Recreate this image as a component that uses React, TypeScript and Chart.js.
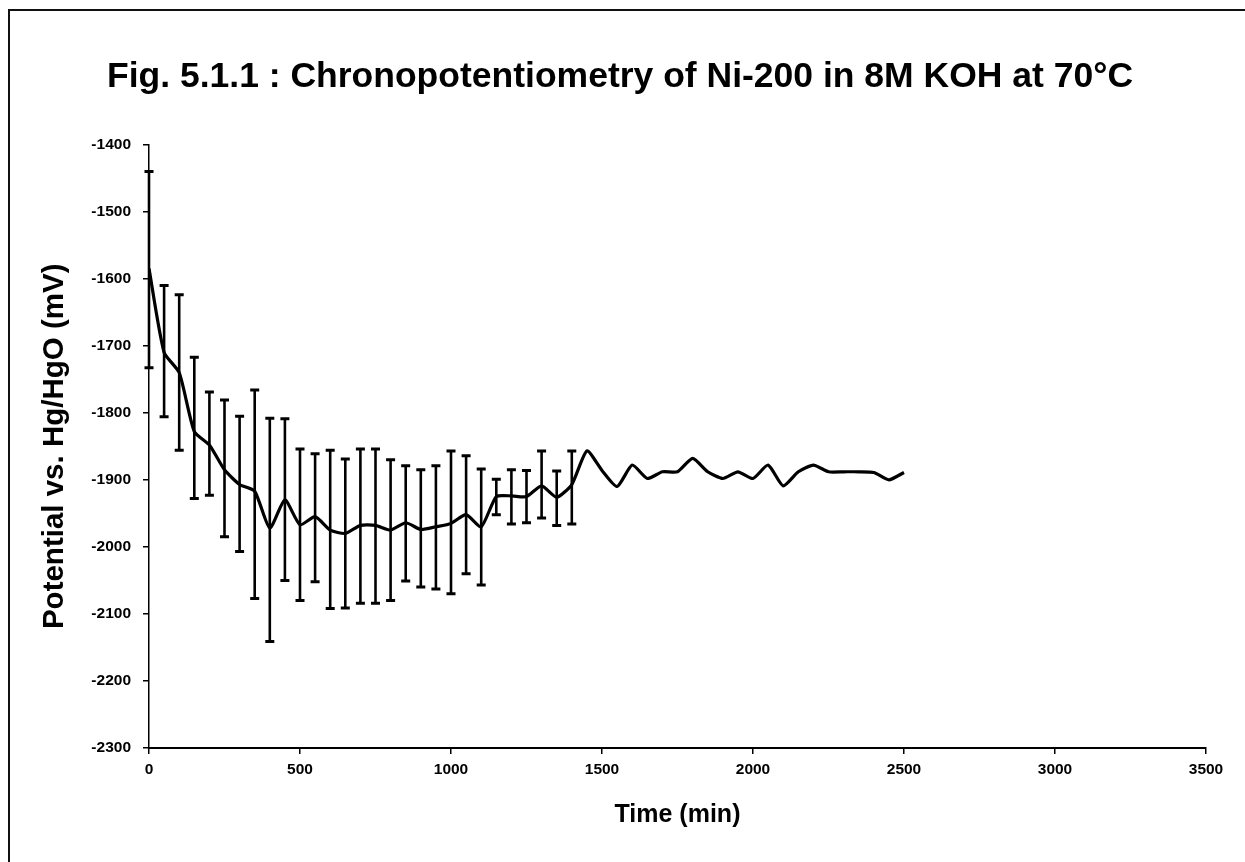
import React, { useEffect, useRef } from "react";
import { Chart, registerables } from "chart.js";

Chart.register(...registerables);

// ---- Data ----
const titleText = "Fig. 5.1.1 : Chronopotentiometry of Ni-200 in 8M KOH at 70°C";
const xAxisTitle = "Time (min)";
const yAxisTitle = "Potential vs. Hg/HgO (mV)";

const times = [
  0, 50, 100, 150, 200, 250, 300, 350, 400, 450,
  500, 550, 600, 650, 700, 750, 800, 850, 900, 950,
  1000, 1050, 1100, 1150, 1200, 1250, 1300, 1350, 1400, 1450,
  1500, 1550, 1600, 1650, 1700, 1750, 1800, 1850, 1900, 1950,
  2000, 2050, 2100, 2150, 2200, 2250, 2300, 2350, 2400, 2450,
  2500,
];

const potential = [
  -1585, -1710, -1740, -1828, -1848, -1885, -1907, -1917, -1972, -1930,
  -1967, -1955, -1975, -1980, -1968, -1968, -1975, -1964, -1974, -1970,
  -1965, -1952, -1970, -1925, -1924, -1925, -1909, -1926, -1907, -1857,
  -1886, -1910, -1878, -1898, -1888, -1888, -1868, -1888, -1898, -1888,
  -1898, -1878, -1909, -1888, -1878, -1888, -1888, -1888, -1889, -1900,
  -1889,
];

const errTimes = [
  0, 50, 100, 150, 200, 250, 300, 350, 400, 450,
  500, 550, 600, 650, 700, 750, 800, 850, 900, 950,
  1000, 1050, 1100, 1150, 1200, 1250, 1300, 1350, 1400,
];

const errHigh = [
  -1440, -1610, -1624, -1717, -1769, -1781, -1805, -1766, -1808, -1809,
  -1854, -1861, -1856, -1869, -1854, -1854, -1870, -1879, -1885, -1879,
  -1857, -1864, -1884, -1899, -1885, -1886, -1857, -1887, -1857,
];

const errLow = [
  -1733, -1806, -1856, -1928, -1923, -1985, -2007, -2077, -2141, -2050,
  -2080, -2052, -2092, -2091, -2084, -2084, -2080, -2051, -2060, -2063,
  -2070, -2040, -2057, -1952, -1966, -1964, -1957, -1968, -1966,
];

const xMin = 0;
const xMax = 3500;
const xStep = 500;
const yMin = -2300;
const yMax = -1400;
const yStep = 100;

// ---- Plugins ----
const framePlugin = {
  id: "frame",
  beforeDraw(chart: any) {
    const { ctx, width, height } = chart;
    ctx.save();
    ctx.fillStyle = "#ffffff";
    ctx.fillRect(0, 0, width, height);
    ctx.strokeStyle = "#111";
    ctx.lineWidth = 2;
    ctx.beginPath();
    ctx.moveTo(9, height);
    ctx.lineTo(9, 10);
    ctx.lineTo(width, 10);
    ctx.stroke();
    ctx.restore();
  },
};

const errorBarPlugin = {
  id: "errorBars",
  afterDatasetsDraw(chart: any) {
    const { ctx } = chart;
    const x = chart.scales.x;
    const y = chart.scales.y;
    ctx.save();
    ctx.strokeStyle = "#000";
    ctx.lineCap = "butt";
    for (let i = 0; i < errTimes.length; i++) {
      const px = x.getPixelForValue(errTimes[i]);
      const yh = y.getPixelForValue(errHigh[i]);
      const yl = y.getPixelForValue(errLow[i]);
      ctx.lineWidth = 2.6;
      ctx.beginPath();
      ctx.moveTo(px, yh);
      ctx.lineTo(px, yl);
      ctx.stroke();
      ctx.lineWidth = 3;
      ctx.beginPath();
      ctx.moveTo(px - 4.5, yh);
      ctx.lineTo(px + 4.5, yh);
      ctx.moveTo(px - 4.5, yl);
      ctx.lineTo(px + 4.5, yl);
      ctx.stroke();
    }
    ctx.restore();
  },
};

const FONT = "'Liberation Sans', Arial, Helvetica, sans-serif";
const plainTick = (v: any) => String(v);

export default function App() {
  const canvasRef = useRef<HTMLCanvasElement | null>(null);

  useEffect(() => {
    const canvas = canvasRef.current;
    if (!canvas) return;
    const chart = new Chart(canvas, {
      type: "line",
      data: {
        datasets: [
          {
            data: times.map((t, i) => ({ x: t, y: potential[i] })),
            borderColor: "#000",
            borderWidth: 3.2,
            pointRadius: 0,
            tension: 0.2,
            fill: false,
            yAxisID: "y",
          },
        ],
      },
      options: {
        animation: false,
        responsive: false,
        maintainAspectRatio: false,
        layout: { padding: { left: 0, right: 5, top: 0, bottom: 0 } },
        plugins: {
          legend: { display: false },
          tooltip: { enabled: false },
          title: {
            display: true,
            text: titleText,
            color: "#000",
            font: { family: FONT, size: 35.5, weight: "bold" },
            padding: { top: 56, bottom: 46 },
          },
        },
        scales: {
          x: {
            type: "linear",
            min: xMin,
            max: xMax,
            afterFit: (scale: any) => {
              scale.height = 114;
            },
            ticks: {
              stepSize: xStep,
              color: "#000",
              padding: 6,
              maxRotation: 0,
              callback: plainTick,
              font: { family: FONT, size: 15.5, weight: "bold" },
            },
            grid: {
              display: true,
              drawOnChartArea: false,
              drawTicks: true,
              tickLength: 6,
              color: "#000",
              lineWidth: 1.5,
            },
            border: { display: true, color: "#000", width: 2 },
            title: {
              display: true,
              text: xAxisTitle,
              color: "#000",
              font: { family: FONT, size: 25, weight: "bold" },
              padding: { top: 0, bottom: 32 },
            },
          },
          y: {
            type: "linear",
            position: "left",
            min: yMin,
            max: yMax,
            afterFit: (scale: any) => {
              scale.width = 149;
            },
            ticks: {
              stepSize: yStep,
              color: "#000",
              padding: 12,
              callback: plainTick,
              font: { family: FONT, size: 15.5, weight: "bold" },
            },
            grid: {
              display: true,
              drawOnChartArea: false,
              drawTicks: true,
              tickLength: 6,
              color: "#000",
              lineWidth: 1.5,
            },
            border: { display: true, color: "#000", width: 1.5, dash: [9, 3] },
            title: {
              display: true,
              text: yAxisTitle,
              color: "#000",
              font: { family: FONT, size: 29.5, weight: "bold" },
              padding: { top: 37, bottom: 0 },
            },
          },
          spacer: {
            type: "linear",
            position: "right",
            min: yMin,
            max: yMax,
            afterFit: (scale: any) => {
              scale.width = 34;
            },
            ticks: { display: false },
            grid: { display: false },
            border: { display: false },
            title: { display: false },
          },
        },
      },
      plugins: [framePlugin, errorBarPlugin],
    });
    return () => chart.destroy();
  }, []);

  return (
    <div style={{ position: "fixed", left: 0, top: 0, width: 1245, height: 862, background: "#fff" }}>
      <canvas ref={canvasRef} width={1245} height={862} style={{ width: 1245, height: 862, display: "block" }} />
    </div>
  );
}
